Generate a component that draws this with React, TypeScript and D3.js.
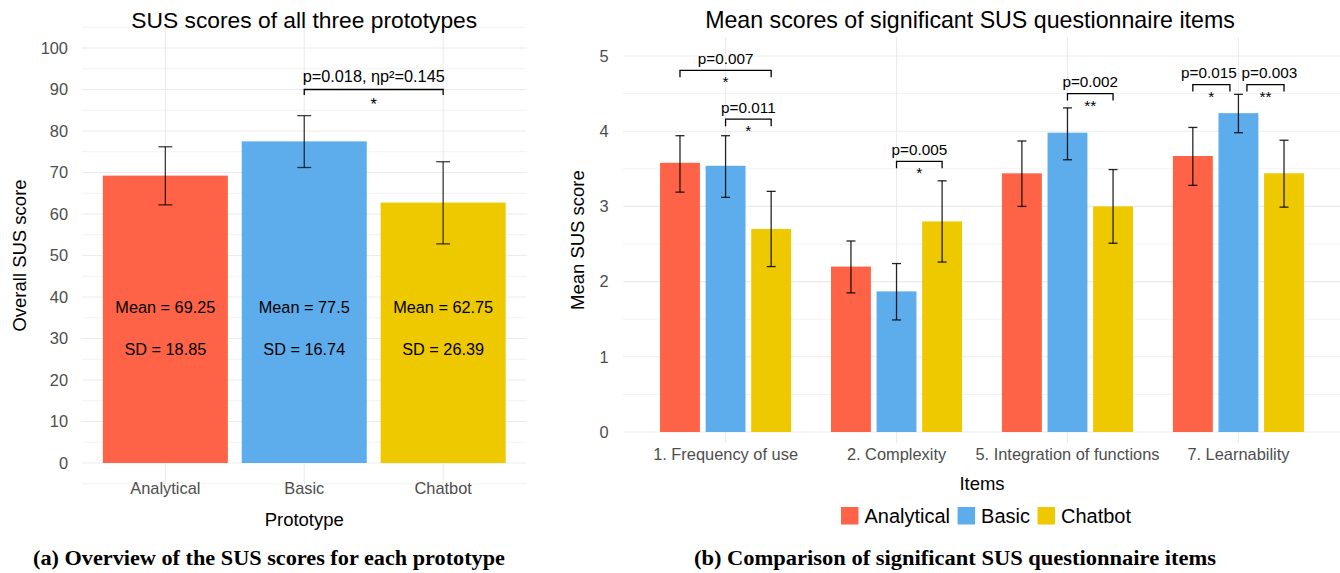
import React, { useEffect, useRef } from 'react';
import * as d3 from 'd3';

const prototypes = ['Analytical', 'Basic', 'Chatbot'];
const colors = ['#FF6347', '#5DADEC', '#EEC900'];

// (a) overall SUS score per prototype
const susMean = [69.25, 77.5, 62.75];
const susSD = [18.85, 16.74, 26.39];
const susErrLow = [62.2, 71.2, 52.8];
const susErrHigh = [76.2, 83.7, 72.6];
const susTicks = d3.range(0, 101, 10);
const susSig = { from: 1, to: 2, y: 90, label: 'p=0.018, ηp²=0.145', stars: '*' };

// (b) significant questionnaire items
const items = ['1. Frequency of use', '2. Complexity', '5. Integration of functions', '7. Learnability'];
const meanAnalytical = [3.58, 2.2, 3.44, 3.67];
const meanBasic = [3.54, 1.87, 3.98, 4.24];
const meanChatbot = [2.7, 2.8, 3.0, 3.44];
const lowAnalytical = [3.19, 1.85, 3.0, 3.28];
const highAnalytical = [3.94, 2.54, 3.87, 4.05];
const lowBasic = [3.12, 1.49, 3.62, 3.98];
const highBasic = [3.94, 2.24, 4.31, 4.49];
const lowChatbot = [2.2, 2.26, 2.51, 2.99];
const highChatbot = [3.2, 3.34, 3.49, 3.88];
const itemTicks = [0, 1, 2, 3, 4, 5];

// brackets: item, from series, to series, height, label, stars
const sigItem = [0, 0, 1, 2, 3, 3];
const sigFrom = [0, 1, 1, 1, 0, 1];
const sigTo = [2, 2, 2, 2, 1, 2];
const sigY = [4.81, 4.16, 3.6, 4.5, 4.62, 4.62];
const sigLabel = ['p=0.007', 'p=0.011', 'p=0.005', 'p=0.002', 'p=0.015', 'p=0.003'];
const sigStars = ['*', '*', '*', '**', '*', '**'];

const SANS = '"Liberation Sans", Arial, Helvetica, sans-serif';
const SERIF = '"Liberation Serif", "Times New Roman", serif';
const TICK = '#4D4D4D';

function drawOverall(g: any) {
  const x = d3.scaleLinear().domain([0.4, 3.6]).range([82, 526.5]);
  const y = d3.scaleLinear().domain([-5, 105]).range([483.75, 27.25]);

  // grid
  const minor = d3.range(-5, 106, 10);
  g.selectAll('.minor').data(minor).join('line')
    .attr('x1', x(0.4)).attr('x2', x(3.6))
    .attr('y1', (d: number) => y(d)).attr('y2', (d: number) => y(d))
    .attr('stroke', '#F2F2F2').attr('stroke-width', 1);
  g.selectAll('.major').data(susTicks).join('line')
    .attr('x1', x(0.4)).attr('x2', x(3.6))
    .attr('y1', (d: number) => y(d)).attr('y2', (d: number) => y(d))
    .attr('stroke', '#EBEBEB').attr('stroke-width', 1.1);
  g.selectAll('.vgrid').data(prototypes).join('line')
    .attr('x1', (_: any, i: number) => x(i + 1)).attr('x2', (_: any, i: number) => x(i + 1))
    .attr('y1', y(105)).attr('y2', y(-5))
    .attr('stroke', '#EBEBEB').attr('stroke-width', 1.1);

  // bars
  g.selectAll('.bar').data(susMean).join('rect')
    .attr('x', (_: any, i: number) => x(i + 1 - 0.45))
    .attr('width', x(1.45) - x(0.55))
    .attr('y', (d: number) => y(d))
    .attr('height', (d: number) => y(0) - y(d))
    .attr('fill', (_: any, i: number) => colors[i]);

  // error bars
  susMean.forEach((_, i) => {
    const cx = x(i + 1);
    const eb = g.append('g').attr('stroke', '#000').attr('stroke-opacity', 0.75).attr('stroke-width', 1.3);
    eb.append('line').attr('x1', cx).attr('x2', cx).attr('y1', y(susErrLow[i])).attr('y2', y(susErrHigh[i]));
    [susErrLow[i], susErrHigh[i]].forEach((v) => {
      eb.append('line').attr('x1', x(i + 1 - 0.05)).attr('x2', x(i + 1 + 0.05)).attr('y1', y(v)).attr('y2', y(v));
    });
    g.append('text').attr('x', cx).attr('y', y(37.5)).attr('dy', '0.35em')
      .attr('text-anchor', 'middle').attr('font-size', 16.3).attr('fill', '#000')
      .text(`Mean = ${susMean[i]}`);
    g.append('text').attr('x', cx).attr('y', y(27.5)).attr('dy', '0.35em')
      .attr('text-anchor', 'middle').attr('font-size', 16.3).attr('fill', '#000')
      .text(`SD = ${susSD[i].toFixed(2)}`);
  });

  // axes
  g.selectAll('.ytick').data(susTicks).join('text')
    .attr('x', 68).attr('y', (d: number) => y(d)).attr('dy', '0.35em')
    .attr('text-anchor', 'end').attr('font-size', 16.4).attr('fill', TICK)
    .text((d: number) => d);
  g.selectAll('.xtick').data(prototypes).join('text')
    .attr('x', (_: any, i: number) => x(i + 1)).attr('y', 488).attr('dy', '0.35em')
    .attr('text-anchor', 'middle').attr('font-size', 16.4).attr('fill', TICK)
    .text((d: string) => d);
  g.append('text').attr('x', x(2)).attr('y', 520).attr('dy', '0.35em')
    .attr('text-anchor', 'middle').attr('font-size', 18.5).text('Prototype');
  g.append('text').attr('transform', `translate(20,${(y(105) + y(-5)) / 2}) rotate(-90)`)
    .attr('dy', '0.35em').attr('text-anchor', 'middle').attr('font-size', 18.5).text('Overall SUS score');
  g.append('text').attr('x', x(2)).attr('y', 28)
    .attr('text-anchor', 'middle').attr('font-size', 22.8).text('SUS scores of all three prototypes');

  // significance bracket
  const x1 = x(susSig.from + 1), x2 = x(susSig.to + 1), by = y(susSig.y);
  g.append('path')
    .attr('d', `M${x1},${by + 5.5}V${by}H${x2}V${by + 5.5}`)
    .attr('fill', 'none').attr('stroke', '#000').attr('stroke-width', 1.3);
  g.append('text').attr('x', (x1 + x2) / 2).attr('y', by - 8)
    .attr('text-anchor', 'middle').attr('font-size', 16.3).text(susSig.label);
  g.append('text').attr('x', (x1 + x2) / 2).attr('y', by + 20)
    .attr('text-anchor', 'middle').attr('font-size', 16.3).text(susSig.stars);
}

function drawItems(g: any) {
  const x = d3.scaleLinear().domain([0.4, 4.6]).range([623, 1341]);
  const y = d3.scaleLinear().domain([0, 5]).range([432, 56]);
  const yTop = y(5.25), yBot = y(-0.146);
  const means = [meanAnalytical, meanBasic, meanChatbot];
  const lows = [lowAnalytical, lowBasic, lowChatbot];
  const highs = [highAnalytical, highBasic, highChatbot];
  const dodge = 0.8 / 3;
  const bw = 0.7 / 3;
  const pos = (item: number, s: number) => item + 1 + (s - 1) * dodge;

  g.selectAll('.minor').data([0.5, 1.5, 2.5, 3.5, 4.5]).join('line')
    .attr('x1', x(0.4)).attr('x2', x(4.6))
    .attr('y1', (d: number) => y(d)).attr('y2', (d: number) => y(d))
    .attr('stroke', '#F2F2F2').attr('stroke-width', 1);
  g.selectAll('.major').data(itemTicks).join('line')
    .attr('x1', x(0.4)).attr('x2', x(4.6))
    .attr('y1', (d: number) => y(d)).attr('y2', (d: number) => y(d))
    .attr('stroke', '#EBEBEB').attr('stroke-width', 1.1);
  g.selectAll('.vgrid').data(items).join('line')
    .attr('x1', (_: any, i: number) => x(i + 1)).attr('x2', (_: any, i: number) => x(i + 1))
    .attr('y1', yTop).attr('y2', yBot)
    .attr('stroke', '#EBEBEB').attr('stroke-width', 1.1);

  means.forEach((series, s) => {
    g.selectAll(`.bar${s}`).data(series).join('rect')
      .attr('x', (_: any, i: number) => x(pos(i, s) - bw / 2))
      .attr('width', x(1 + bw) - x(1))
      .attr('y', (d: number) => y(d))
      .attr('height', (d: number) => y(0) - y(d))
      .attr('fill', colors[s]);
  });
  means.forEach((series, s) => {
    series.forEach((_, i) => {
      const cx = x(pos(i, s));
      const eb = g.append('g').attr('stroke', '#000').attr('stroke-opacity', 0.85).attr('stroke-width', 1.3);
      eb.append('line').attr('x1', cx).attr('x2', cx).attr('y1', y(lows[s][i])).attr('y2', y(highs[s][i]));
      [lows[s][i], highs[s][i]].forEach((v) => {
        eb.append('line').attr('x1', cx - 4.5).attr('x2', cx + 4.5).attr('y1', y(v)).attr('y2', y(v));
      });
    });
  });

  g.selectAll('.ytick').data(itemTicks).join('text')
    .attr('x', 608.5).attr('y', (d: number) => y(d)).attr('dy', '0.35em')
    .attr('text-anchor', 'end').attr('font-size', 16.4).attr('fill', TICK)
    .text((d: number) => d);
  g.selectAll('.xtick').data(items).join('text')
    .attr('x', (_: any, i: number) => x(i + 1)).attr('y', 454).attr('dy', '0.35em')
    .attr('text-anchor', 'middle').attr('font-size', 16.4).attr('fill', TICK)
    .text((d: string) => d);
  g.append('text').attr('x', 982).attr('y', 484).attr('dy', '0.35em')
    .attr('text-anchor', 'middle').attr('font-size', 18.5).text('Items');
  g.append('text').attr('transform', `translate(578,${(yTop + yBot) / 2}) rotate(-90)`)
    .attr('dy', '0.35em').attr('text-anchor', 'middle').attr('font-size', 18.5).text('Mean SUS score');
  g.append('text').attr('x', 970).attr('y', 28)
    .attr('text-anchor', 'middle').attr('font-size', 23.2)
    .text('Mean scores of significant SUS questionnaire items');

  // brackets
  sigItem.forEach((item, k) => {
    let x1 = x(pos(item, sigFrom[k]));
    let x2 = x(pos(item, sigTo[k]));
    let nudge = 0;
    // shorten where two brackets meet at the same bar and height
    sigItem.forEach((item2, m) => {
      if (m === k || item2 !== item || sigY[m] !== sigY[k]) return;
      if (sigFrom[m] === sigTo[k]) { x2 -= 8.5; nudge -= 2.5; }
      if (sigTo[m] === sigFrom[k]) { x1 += 8.5; nudge += 4; }
    });
    const by = y(sigY[k]);
    g.append('path')
      .attr('d', `M${x1},${by + 7}V${by}H${x2}V${by + 7}`)
      .attr('fill', 'none').attr('stroke', '#000').attr('stroke-width', 1.3);
    g.append('text').attr('x', (x1 + x2) / 2 + nudge).attr('y', by - 6.5)
      .attr('text-anchor', 'middle').attr('font-size', 15.3).text(sigLabel[k]);
    g.append('text').attr('x', (x1 + x2) / 2).attr('y', by + 17)
      .attr('text-anchor', 'middle').attr('font-size', 15.5).text(sigStars[k]);
  });

  // legend
  const lg = g.append('g');
  let cursor = 0;
  prototypes.forEach((p, i) => {
    const item = lg.append('g').attr('transform', `translate(${cursor},0)`);
    item.append('rect').attr('x', 0).attr('y', -8.5).attr('width', 17.5).attr('height', 17.5).attr('fill', colors[i]);
    const t = item.append('text').attr('x', 23.5).attr('dy', '0.35em').attr('font-size', 20).text(p);
    const w = (t.node() as SVGTextElement).getComputedTextLength();
    cursor += 23.5 + w + 7.5;
  });
  const total = cursor - 7.5;
  lg.attr('transform', `translate(${986 - total / 2},515.5)`);
}

export default function App() {
  const ref = useRef<SVGSVGElement>(null);
  useEffect(() => {
    const svg = d3.select(ref.current);
    svg.selectAll('*').remove();
    svg.append('rect').attr('width', 1340).attr('height', 573).attr('fill', '#fff');
    drawOverall(svg.append('g'));
    drawItems(svg.append('g'));
    const cap = svg.append('g').attr('font-family', SERIF).attr('font-weight', 'bold').attr('font-size', 20);
    cap.append('text').attr('x', 269).attr('y', 565).attr('text-anchor', 'middle')
      .attr('textLength', 472).attr('lengthAdjust', 'spacingAndGlyphs')
      .text('(a) Overview of the SUS scores for each prototype');
    cap.append('text').attr('x', 955).attr('y', 565).attr('text-anchor', 'middle')
      .attr('textLength', 522).attr('lengthAdjust', 'spacingAndGlyphs')
      .text('(b) Comparison of significant SUS questionnaire items');
  }, []);
  return (
    <svg
      ref={ref}
      width={1340}
      height={573}
      fontFamily={SANS}
      style={{ position: 'absolute', left: 0, top: 0 }}
    />
  );
}
